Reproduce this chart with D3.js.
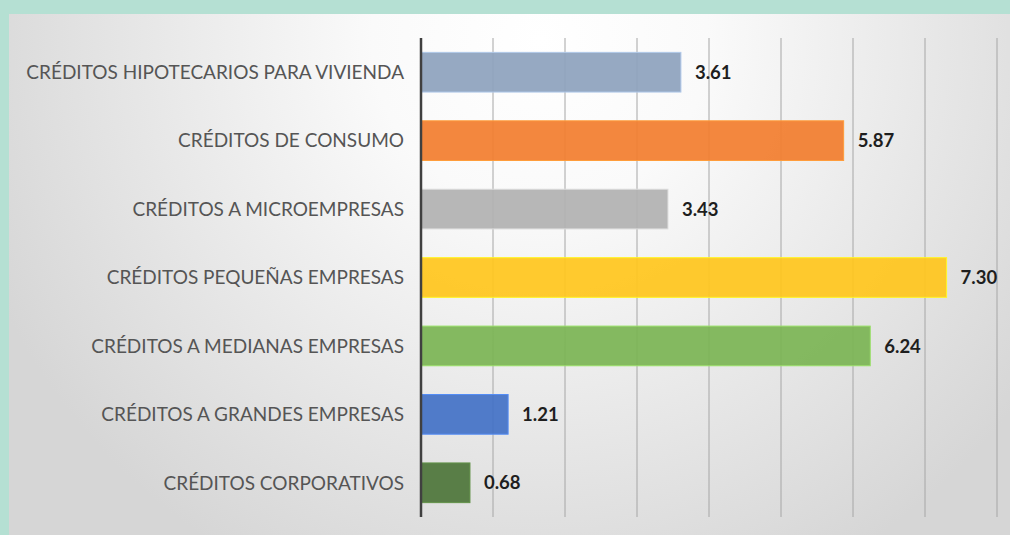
<!DOCTYPE html>
<html>
<head>
<meta charset="utf-8">
<script src="https://cdn.jsdelivr.net/npm/d3@7"></script>
<style>
  body { margin: 0; background: #b5e0d3; }
  svg { display: block; }
</style>
</head>
<body>
<div id="chart"></div>
<script>
var categories = [
  "CRÉDITOS HIPOTECARIOS PARA VIVIENDA",
  "CRÉDITOS DE CONSUMO",
  "CRÉDITOS A MICROEMPRESAS",
  "CRÉDITOS PEQUEÑAS EMPRESAS",
  "CRÉDITOS A MEDIANAS EMPRESAS",
  "CRÉDITOS A GRANDES EMPRESAS",
  "CRÉDITOS CORPORATIVOS"
];
var values = [3.61, 5.87, 3.43, 7.30, 6.24, 1.21, 0.68];
var barColors = ["#8ea2bd", "#f27e2f", "#b2b2b2", "#ffc61e", "#7cb555", "#4472c6", "#4f763b"];
var gridTicks = [1, 2, 3, 4, 5, 6, 7, 8];

var width = 1010,
    height = 535;

var svg = d3.select("#chart").append("svg")
    .attr("width", width)
    .attr("height", height);

var defs = svg.append("defs");
var grad = defs.append("radialGradient")
    .attr("id", "panelGrad")
    .attr("gradientUnits", "userSpaceOnUse")
    .attr("cx", 540).attr("cy", 40).attr("r", 600);
grad.append("stop").attr("offset", "0%").attr("stop-color", "#ffffff");
grad.append("stop").attr("offset", "28%").attr("stop-color", "#fafafa");
grad.append("stop").attr("offset", "100%").attr("stop-color", "#d6d6d6");

svg.append("rect")
    .attr("x", 9).attr("y", 14)
    .attr("width", width - 9).attr("height", height - 14)
    .attr("fill", "url(#panelGrad)");

var x = d3.scaleLinear().domain([0, 8]).range([421, 997]);
var y = d3.scaleBand().domain(categories).range([38, 517]).paddingInner(0.42).paddingOuter(0.21);

// gridlines
svg.selectAll(".grid")
    .data(gridTicks).enter().append("line")
    .attr("class", "grid")
    .attr("x1", function (d) { return x(d); })
    .attr("x2", function (d) { return x(d); })
    .attr("y1", 38).attr("y2", 517)
    .attr("stroke", "#a6a6a6")
    .attr("stroke-width", 1);

// bars
svg.selectAll(".bar")
    .data(values).enter().append("rect")
    .attr("class", "bar")
    .attr("x", x(0))
    .attr("y", function (d, i) { return y(categories[i]); })
    .attr("width", function (d) { return x(d) - x(0); })
    .attr("height", y.bandwidth())
    .attr("fill", function (d, i) { return barColors[i]; })
    .attr("fill-opacity", 0.93)
    .attr("stroke", function (d, i) { return d3.color(barColors[i]).brighter(0.6); })
    .attr("stroke-width", 1);

// axis line
svg.append("line")
    .attr("x1", x(0)).attr("x2", x(0))
    .attr("y1", 38).attr("y2", 517)
    .attr("stroke", "#404040")
    .attr("stroke-width", 2.5);

// category labels
svg.selectAll(".cat")
    .data(categories).enter().append("text")
    .attr("class", "cat")
    .attr("x", 404)
    .attr("y", function (d) { return y(d) + y.bandwidth() / 2; })
    .attr("dy", "0.36em")
    .attr("text-anchor", "end")
    .attr("font-family", "Lato, 'Open Sans', sans-serif")
    .attr("font-size", 19)
    .attr("fill", "#555555")
    .text(function (d) { return d; });

// value labels
svg.selectAll(".val")
    .data(values).enter().append("text")
    .attr("class", "val")
    .attr("x", function (d) { return x(d) + 14; })
    .attr("y", function (d, i) { return y(categories[i]) + y.bandwidth() / 2; })
    .attr("dy", "0.36em")
    .attr("font-family", "Lato, 'Open Sans', sans-serif")
    .attr("font-weight", "bold")
    .attr("font-size", 18.5)
    .attr("fill", "#1e1e1e")
    .text(function (d) { return d.toFixed(2); });
</script>
</body>
</html>
